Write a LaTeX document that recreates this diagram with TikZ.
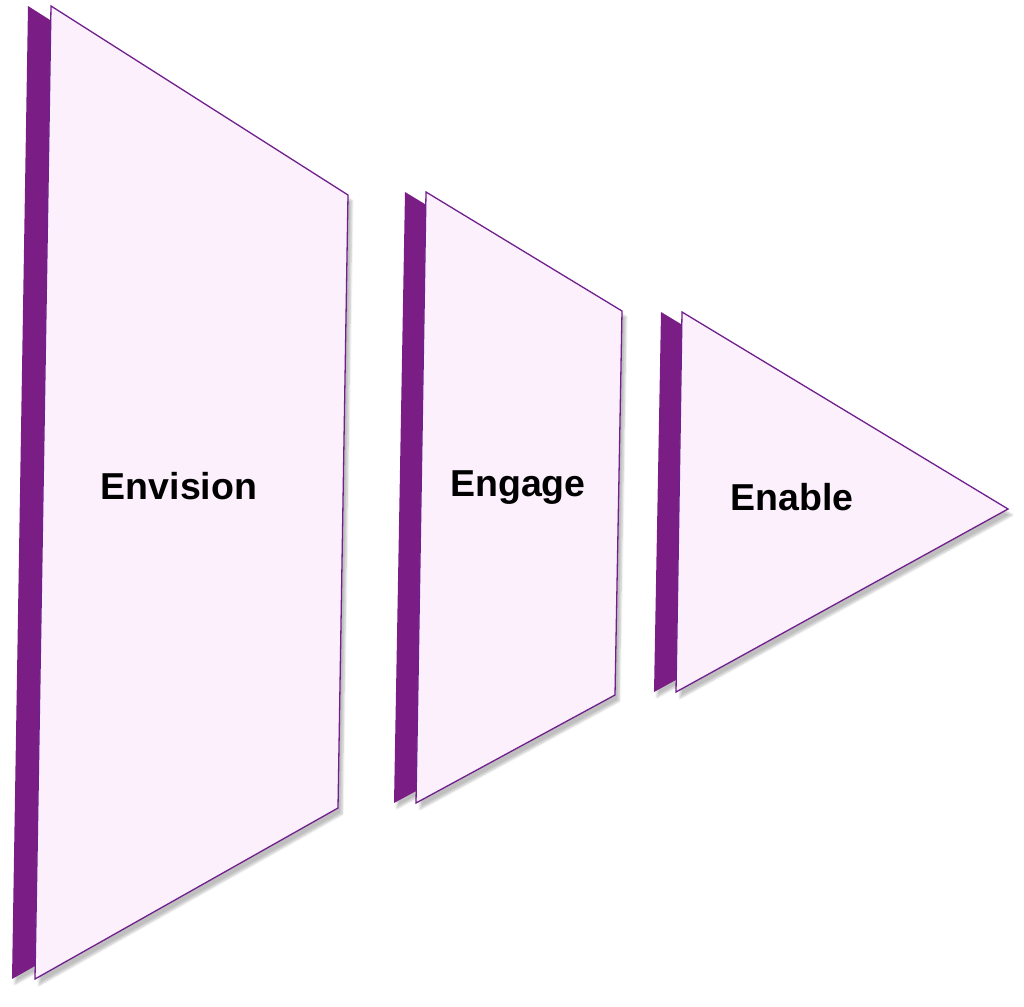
\documentclass[tikz,border=0pt]{standalone}
\usepackage{fontspec}
\setmainfont{Liberation Sans}
\usetikzlibrary{shadows.blur}
\definecolor{plumdark}{RGB}{122,30,134}
\definecolor{plumpale}{RGB}{252,240,253}
\definecolor{plumline}{RGB}{112,32,140}
\begin{document}
\begin{tikzpicture}[x=1pt, y=-1pt, line width=1.3pt,
  backface/.style={fill=plumdark, blur shadow={shadow xshift=3pt, shadow yshift=-5pt, shadow opacity=25, shadow blur steps=6}},
  frontface/.style={fill=plumpale, draw=plumline, blur shadow={shadow xshift=4pt, shadow yshift=-6pt, shadow opacity=25, shadow blur steps=6}},
  stagetext/.style={font=\bfseries\fontsize{37.5}{42}\selectfont, text=black, inner sep=0pt}]
  \useasboundingbox (0,0) rectangle (1024,1006);
  % Envision
  \fill[backface] (28,6) -- (325,195) -- (315,808) -- (12,979) -- cycle;
  \draw[frontface] (51,6) -- (348,195) -- (338,808) -- (35,979) -- cycle;
  % Engage
  \fill[backface] (405,192) -- (601,311) -- (594,695) -- (394,803) -- cycle;
  \draw[frontface] (426,192) -- (622,311) -- (615,695) -- (416,803) -- cycle;
  % Enable
  \fill[backface] (661,312) -- (987,509) -- (654,692) -- cycle;
  \draw[frontface] (682,312) -- (1008,509) -- (676,692) -- cycle;
  % labels
  \node[stagetext] (envision) at (179,486) {Envision};
  \node[stagetext] (engage) at (518,488) {Engage};
  \node[stagetext] (enable) at (792,497) {Enable};
\end{tikzpicture}
\end{document}
